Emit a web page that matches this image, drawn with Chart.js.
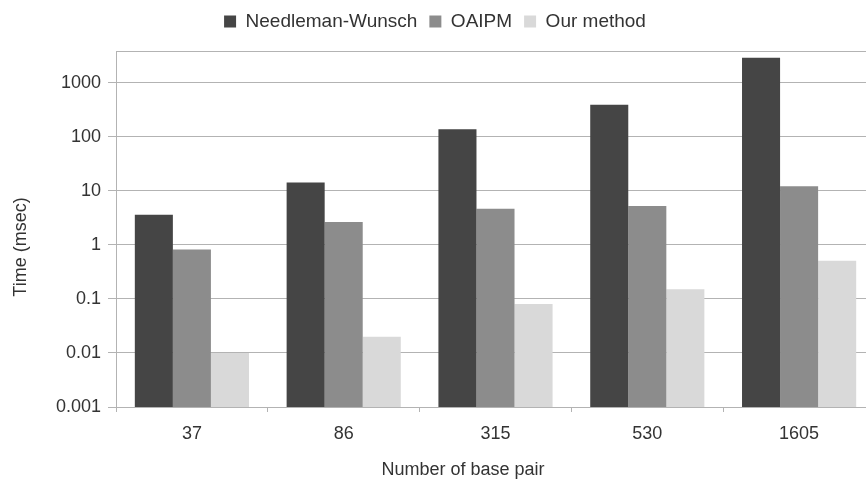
<!DOCTYPE html>
<html>
<head>
<meta charset="utf-8">
<script src="https://cdn.jsdelivr.net/npm/chart.js@4/dist/chart.umd.min.js"></script>
<style>
  html, body { margin: 0; padding: 0; background: #fff; overflow: hidden; }
  #chart { position: absolute; left: -5px; top: 0; }
</style>
</head>
<body>
<canvas id="chart" width="880" height="480"></canvas>
<script>
// Данные графика
const categories = ['37', '86', '315', '530', '1605'];
const needlemanWunsch = [3.6, 14.2, 138, 390, 2900];
const oaipm = [0.82, 2.63, 4.65, 5.2, 12.1];
const ourMethod = [0.01, 0.02, 0.08, 0.15, 0.51];
const yTickValues = [0.001, 0.01, 0.1, 1, 10, 100, 1000];
const yMin = 0.001;
const yMax = 3850;

const xTitle = 'Number of base pair';
const yTitle = 'Time (msec)';

const FONT = 'Liberation Sans, Arial, sans-serif';
const TEXT_COLOR = '#333333';
const GRID_COLOR = '#b3b3b3';

// Подписи осей рисуем сами, чтобы поставить их как в оригинале
const axisTitles = {
    id: 'axisTitles',
    afterInit(chart) {
        // немного больше места под легендой
        const legend = chart.legend;
        if (legend) {
            const fit = legend.fit;
            legend.fit = function() {
                fit.call(this);
                this.height += 10;
            };
        }
    },
    afterDraw(chart) {
        const ctx = chart.ctx;
        ctx.save();
        ctx.fillStyle = TEXT_COLOR;
        ctx.font = '18px ' + FONT;
        ctx.textAlign = 'center';
        ctx.textBaseline = 'alphabetic';
        ctx.fillText(xTitle, 468, 475);
        ctx.translate(31, 247);
        ctx.rotate(-Math.PI / 2);
        ctx.fillText(yTitle, 0, 0);
        ctx.restore();
    }
};

const ctx = document.getElementById('chart').getContext('2d');
new Chart(ctx, {
    type: 'bar',
    data: {
        labels: categories,
        datasets: [
            { label: 'Needleman-Wunsch', data: needlemanWunsch, backgroundColor: '#454545' },
            { label: 'OAIPM', data: oaipm, backgroundColor: '#8c8c8c' },
            { label: 'Our method', data: ourMethod, backgroundColor: '#d9d9d9' }
        ]
    },
    options: {
        responsive: false,
        animation: false,
        layout: { padding: 0 },
        datasets: {
            bar: { categoryPercentage: 0.752, barPercentage: 1, borderWidth: 0 }
        },
        plugins: {
            legend: {
                position: 'top',
                labels: {
                    boxWidth: 12,
                    boxHeight: 12,
                    padding: 12,
                    color: TEXT_COLOR,
                    font: { family: FONT, size: 19 }
                }
            },
            tooltip: { enabled: false }
        },
        scales: {
            x: {
                afterFit: function(scale) { scale.height = 73; },
                grid: {
                    offset: true,
                    drawOnChartArea: false,
                    drawTicks: true,
                    tickLength: 5,
                    color: GRID_COLOR
                },
                border: { color: GRID_COLOR },
                ticks: {
                    padding: 11,
                    color: TEXT_COLOR,
                    font: { family: FONT, size: 18 }
                }
            },
            y: {
                type: 'logarithmic',
                min: yMin,
                max: yMax,
                afterFit: function(scale) { scale.width = 121; },
                afterBuildTicks: function(scale) {
                    scale.ticks = yTickValues.concat([yMax]).map(v => ({ value: v }));
                },
                grid: {
                    color: GRID_COLOR,
                    tickLength: 8,
                    tickColor: function(c) {
                        return c.tick && c.tick.value === yMax ? 'rgba(0,0,0,0)' : GRID_COLOR;
                    }
                },
                border: { color: GRID_COLOR },
                ticks: {
                    padding: 7,
                    color: TEXT_COLOR,
                    font: { family: FONT, size: 18 },
                    callback: function(value) {
                        return yTickValues.includes(value) ? String(value) : '';
                    }
                }
            }
        }
    },
    plugins: [axisTitles]
});
</script>
</body>
</html>
